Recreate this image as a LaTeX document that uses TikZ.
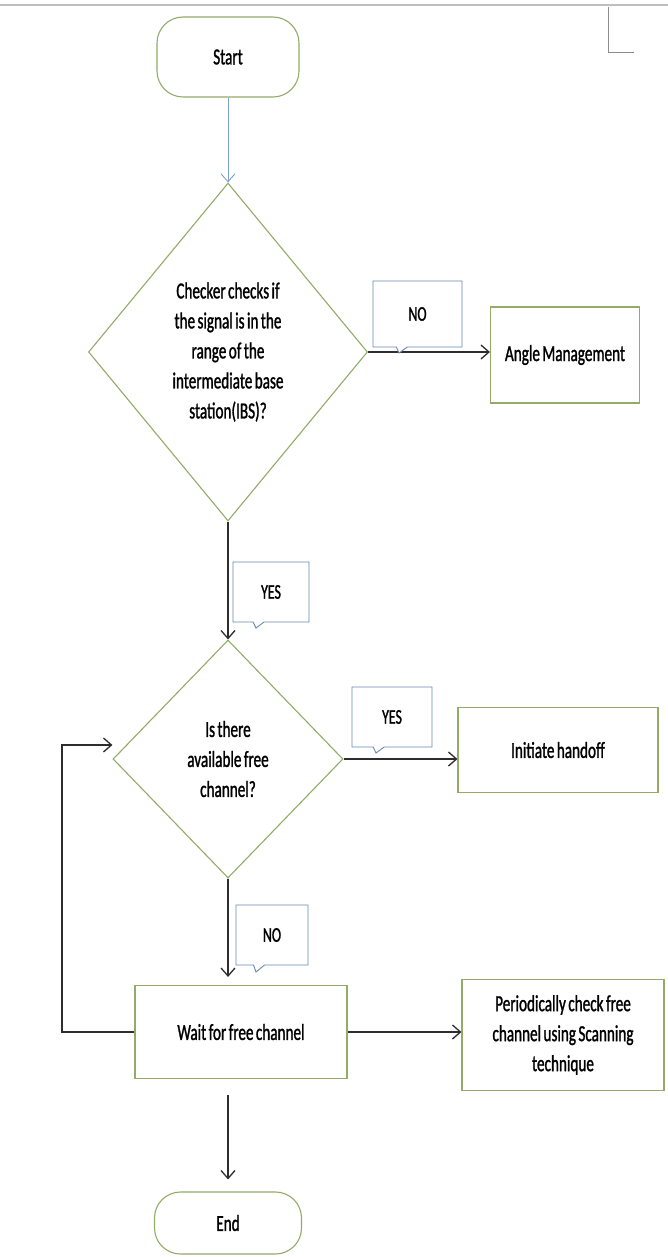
\documentclass[tikz,border=0pt]{standalone}
\usepackage{fontspec}
\setmainfont[FakeStretch=0.66, WordSpace=0.7, FakeBold=1.2]{Carlito}
\usetikzlibrary{shapes.geometric, shapes.callouts, arrows.meta, calc}
\definecolor{boxgreen}{RGB}{146,172,104}
\definecolor{tagblue}{RGB}{104,136,176}
\definecolor{startblue}{RGB}{122,162,208}
\definecolor{linegray}{RGB}{45,45,45}

\begin{document}
\begin{tikzpicture}[x=1pt, y=-1pt,
    txt/.style={font=\fontsize{23}{30}\selectfont, align=center},
    term/.style={txt, draw=boxgreen, line width=1.1pt, rounded corners=26pt, inner sep=0pt},
    proc/.style={txt, draw=boxgreen, line width=1.1pt, inner sep=0pt},
    decide/.style={txt, diamond, draw=boxgreen, line width=1.1pt, inner sep=0pt},
    tag/.style={rectangle callout, draw=tagblue, line width=0.9pt, fill=white,
      font=\fontsize{21}{24}\selectfont, callout pointer width=11pt, inner sep=0pt},
    flow/.style={draw=linegray, line width=1.3pt, -{Straight Barb[length=8pt,width=14pt]}}
  ]
    \fill[white] (0,0) rectangle (668,1257);
    \useasboundingbox (0,0) rectangle (668,1257);
    \draw[black!25, line width=2.5pt] (0,5) -- (668,5);
    \draw[black!45, line width=1pt] (608,7) -- (608,53) -- (634,53);

    \node[term, minimum width=142pt, minimum height=80pt] (start) at (228,57) {Start};
    \node[decide, aspect=0.83, minimum width=279pt, minimum height=338pt] (dia1) at (228,352)
      {Checker checks if\\the signal is in the\\range of the\\intermediate base\\station(IBS)?};
    \node[proc, minimum width=149pt, minimum height=96pt] (angle) at (565,355) {Angle Management};
    \node[decide, aspect=0.97, minimum width=230pt, minimum height=238pt] (dia2) at (228,759)
      {Is there\\available free\\channel?};
    \node[proc, minimum width=200pt, minimum height=85pt] (hand) at (558,750) {Initiate handoff};
    \node[proc, minimum width=212pt, minimum height=93pt] (wait) at (241,1032) {Wait for free channel};
    \node[proc, minimum width=202pt, minimum height=111pt] (scan) at (563,1035)
      {Periodically check free\\channel using Scanning\\technique};
    \node[term, minimum width=147pt, minimum height=62pt] (end) at (228,1223) {End};

    \draw[flow, draw=startblue, line width=0.9pt] (start) -- (dia1);
    \draw[flow] (dia1.east) -- (dia1.east -| angle.west);
    \draw[flow] (dia1) -- (dia2);
    \draw[flow] (dia2.east) -- (dia2.east -| hand.west);
    \draw[flow, shorten >=8pt] (dia2.south) -- (dia2.south |- wait.north);
    \draw[flow] (wait.east) -- (wait.east -| scan.west);
    \draw[flow, shorten <=16pt, shorten >=12pt] (end |- wait.south) -- (end.north);
    \coordinate (loop) at (62,745);
    \draw[flow] (wait.west) -| (loop) -- (loop -| dia2.west);

    \node[tag, minimum width=89pt, minimum height=66pt, callout absolute pointer={(399,353)}] (tagno1) at (417.5,314) {NO};
    \node[tag, minimum width=76pt, minimum height=60pt, callout absolute pointer={(256,628)}] (tagyes1) at (271,592) {YES};
    \node[tag, minimum width=80pt, minimum height=60pt, callout absolute pointer={(376,753)}] (tagyes2) at (392,717) {YES};
    \node[tag, minimum width=72pt, minimum height=60pt, callout absolute pointer={(256,972)}] (tagno2) at (272,935) {NO};
\end{tikzpicture}
\end{document}
